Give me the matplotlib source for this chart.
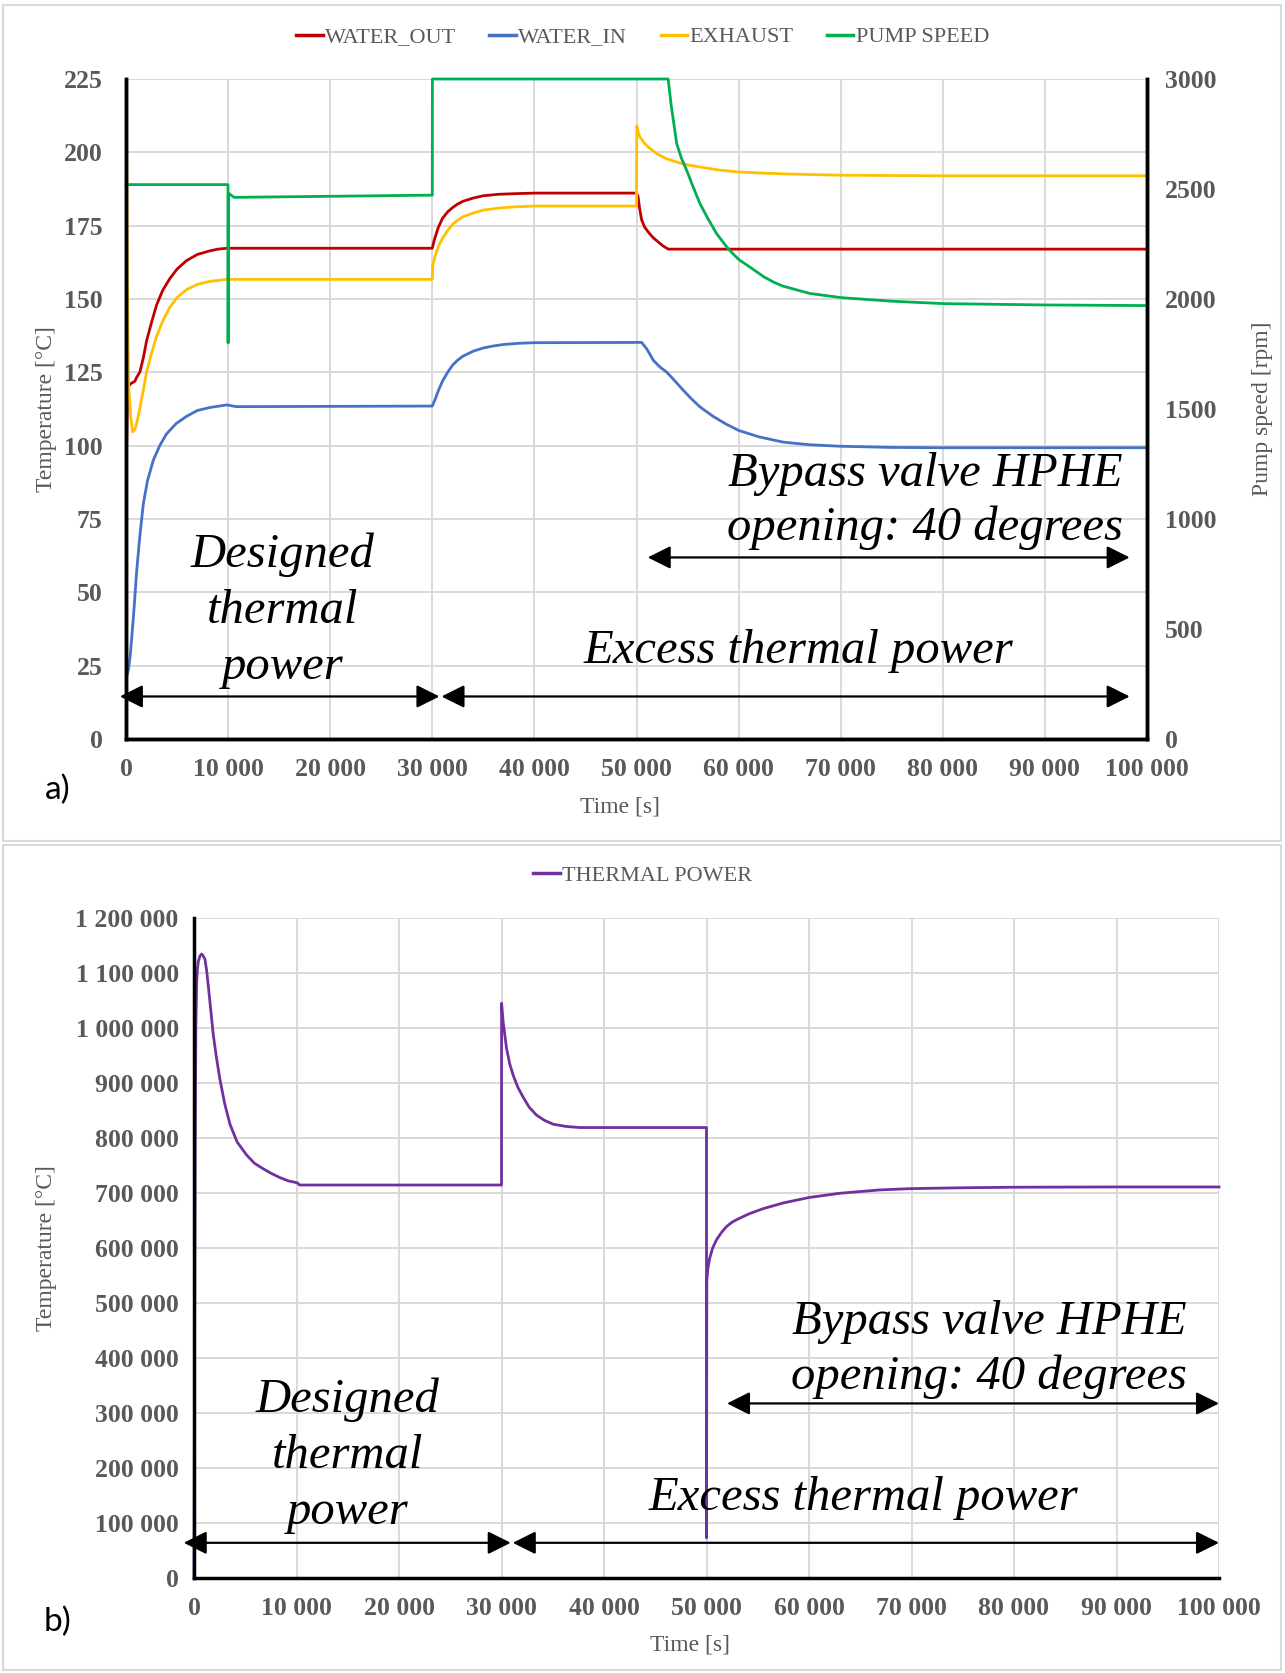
import matplotlib.pyplot as plt
from matplotlib.lines import Line2D
from matplotlib.patches import Rectangle

plt.rcParams['font.family'] = ['Liberation Serif', 'DejaVu Serif']

# ---- a) temperatures [°C] and pump speed [rpm] ----
water_out_t = [0, 60, 150, 400, 880, 1000, 1370, 1700, 2020, 2500, 3000, 3600,
               4300, 5000, 5930, 7000, 8200, 9000, 9900,
               30000, 30150, 30300, 30600, 31000, 31500, 32000, 32500, 33000,
               34000, 35000, 36500, 38000, 40000, 50000,
               50150, 50300, 50500, 50800, 51160, 51600, 52140, 52600, 53100, 100000]
water_out = [20, 100, 119.5, 121, 122, 123, 125.2, 130, 135.8, 142, 148, 153,
             157, 160.2, 163.1, 165.2, 166.4, 167, 167.3,
             167.3, 169.5, 171.3, 174.5, 177.5, 179.7, 181.2, 182.4, 183.3,
             184.4, 185.2, 185.7, 185.9, 186.1, 186.1,
             185, 181, 177, 174.5, 172.8, 171, 169.4, 168.1, 167, 167]

water_in_t = [0, 230, 400, 550, 800, 1040, 1350, 1690, 2100, 2670, 3300, 3970,
              4900, 5930, 7000, 8200, 9900, 10800,
              30000, 30300, 30600, 31000, 31500, 32000, 32500, 33000, 34000,
              35000, 36000, 37000, 38500, 40000, 50500,
              51000, 51650, 52300, 52950, 53700, 54580, 55400, 56220, 57500,
              58700, 60000, 62000, 64380, 67000, 70000, 75000, 80000, 100000]
water_in = [20.5, 23.5, 28, 34, 45, 57, 69, 80, 88, 95, 100, 104,
            107.5, 110, 112, 113, 113.9, 113.3,
            113.5, 116, 118.8, 122, 125, 127.5, 129.2, 130.5, 132.2,
            133.3, 134, 134.5, 134.9, 135.1, 135.2,
            133, 129.1, 126.8, 125.1, 122.3, 118.9, 115.9, 113.2, 110,
            107.5, 105.2, 103, 101.2, 100.3, 99.8, 99.4, 99.3, 99.3]

exhaust_t = [0, 30, 120, 250, 460, 650, 880, 1100, 1370, 1700, 2020, 2500,
             3000, 3600, 4300, 5000, 5930, 7000, 8200, 9900,
             30000, 30050, 30300, 30600, 31000, 31500, 32000, 32500, 33000,
             34000, 35000, 36500, 38000, 40000, 50000,
             50030, 50150, 50340, 50800, 51320, 52000, 52950, 54000, 55000,
             56220, 58000, 60000, 62500, 65000, 70000, 80000, 100000]
exhaust = [20, 225, 160, 121, 110, 104.7, 105.5, 108.5, 113, 119, 125.2, 131.5,
           137.3, 142.5, 147.2, 150.5, 153.2, 155, 156, 156.7,
           156.7, 161.5, 165, 168, 170.7, 173.3, 175.5, 176.9, 178,
           179.3, 180.3, 181, 181.4, 181.7, 181.7,
           209, 207, 205.2, 203, 201.3, 199.5, 197.8, 196.6, 195.7,
           195, 194, 193.3, 192.9, 192.6, 192.2, 192, 192]

pump_t = [0, 9990, 10000, 10020, 10100, 10600, 30000, 30010, 53100, 53200,
          53400, 53940, 54400, 54910, 55500, 56220, 57000, 57850, 59000, 60000,
          61110, 62500, 63500, 64380, 67000, 70100, 75000, 80050, 90000, 100000]
pump = [2520, 2520, 1800, 2480, 2478, 2462, 2472, 3000, 3000, 2960,
        2880, 2706, 2640, 2585, 2515, 2433, 2365, 2297, 2227, 2180,
        2145, 2100, 2075, 2058, 2025, 2006, 1990, 1979, 1973, 1970]

# ---- b) thermal power ----
thermal_t = [0, 60, 120, 180, 260, 340, 420, 580, 750, 900, 1070, 1230, 1400,
             1650, 1885, 2200, 2535, 3000, 3510, 4200, 5135, 5900, 6760, 7500,
             8385, 9200, 10075, 10300, 30000,
             30010, 30160, 30490, 30800, 31140, 31600, 32120, 32700, 33420,
             34200, 35050, 36300, 37650, 50000,
             50001, 50030, 50150, 50330, 50600, 50980, 51450, 51950, 52500,
             53100, 54200, 55540, 57500, 60000, 63000, 66900, 70000, 75000,
             80000, 90000, 100000]
thermal = [0, 450000, 800000, 1000000, 1084000, 1108000, 1121000, 1131000,
           1134500, 1131000, 1125000, 1105000, 1076000,
           1030000, 987000, 945000, 906000, 862000, 825000, 793000, 769000,
           754000, 744000, 736000, 728000, 722000, 718500, 714500, 714500,
           1045000, 1011000, 963000, 935000, 914000, 892000, 874000, 856000,
           841500, 832000, 825000, 821000, 819000, 819000,
           72800, 542000, 565000, 582600, 600000, 615000, 628000, 639000,
           647000, 653000, 662500, 671600, 682000, 691800, 699500, 705600,
           708000, 709500, 710500, 711000, 711000]

time_ticks = [0, 10000, 20000, 30000, 40000, 50000, 60000, 70000, 80000, 90000, 100000]
temp_ticks = [0, 25, 50, 75, 100, 125, 150, 175, 200, 225]
rpm_ticks = [0, 500, 1000, 1500, 2000, 2500, 3000]
power_ticks = [0, 100000, 200000, 300000, 400000, 500000, 600000, 700000,
               800000, 900000, 1000000, 1100000, 1200000]


def spaced(v):
    return '{:,.0f}'.format(v).replace(',', ' ')


GREY = '#595959'
GRID = '#d9d9d9'
RED = '#c00000'
BLUE = '#4472c4'
YELLOW = '#ffc000'
GREEN = '#00b050'
PURPLE = '#7030a0'

W, H = 1285, 1673
fig = plt.figure(figsize=(W / 100, H / 100), dpi=100)

# light frames round the two panels
fig.patches.append(Rectangle((3 / W, 1 - 841 / H), 1278 / W, 836 / H, transform=fig.transFigure,
                             fill=False, ec=GRID, lw=1.5))
fig.patches.append(Rectangle((3 / W, 1 - 1670 / H), 1278 / W, 825 / H, transform=fig.transFigure,
                             fill=False, ec=GRID, lw=1.5))

tick_font = dict(fontsize=18.5, fontweight='bold', color=GREY)
label_font = dict(fontsize=17, color=GREY)
note_font = dict(fontsize=35, style='italic', color='black', ha='center', va='center')
arrow_style = dict(arrowstyle='<|-|>,head_length=0.7,head_width=0.35', color='black',
                   lw=1.6, shrinkA=0, shrinkB=0, mutation_scale=20)


def arrow(axis, x0, x1, y, trans):
    axis.annotate('', xy=(x1, y), xytext=(x0, y), xycoords=trans, textcoords=trans,
                  arrowprops=arrow_style, annotation_clip=False, zorder=10)


# ================= a) =================
ax = fig.add_axes([126 / W, 1 - 739 / H, 1021 / W, 660 / H])
ax2 = ax.twinx()

ax.plot(water_out_t, water_out, color=RED, lw=2)
ax.plot(water_in_t, water_in, color=BLUE, lw=2)
ax.plot(exhaust_t, exhaust, color=YELLOW, lw=2)
ax2.plot(pump_t, pump, color=GREEN, lw=2, clip_on=False)

ax.set_xlim(0, 100000)
ax.set_ylim(0, 225)
ax2.set_ylim(0, 3000)

ax.set_xticks(time_ticks, [spaced(t) for t in time_ticks], **tick_font)
ax.set_yticks(temp_ticks, [str(t) for t in temp_ticks], **tick_font)
ax2.set_yticks(rpm_ticks, [str(t) for t in rpm_ticks], **tick_font)
ax.tick_params(axis='x', length=0, pad=14)
ax.tick_params(axis='y', length=0, pad=17)
ax2.tick_params(axis='y', length=0, pad=13)

ax.grid(True, color=GRID, lw=1.4)
ax.set_axisbelow(True)
for a in (ax, ax2):
    a.spines['top'].set_visible(False)
    for s in ('left', 'right', 'bottom'):
        a.spines[s].set_color('black')
        a.spines[s].set_linewidth(2.5)

ax.set_xlabel('Time [s]', **label_font)
ax.xaxis.set_label_coords(0.484, -0.087)
ax.set_ylabel('Temperature [°C]', **label_font)
ax.yaxis.set_label_coords(-0.068, 0.5)
ax2.set_ylabel('Pump speed [rpm]', rotation=90, **label_font)
ax2.yaxis.set_label_coords(1.103, 0.5)

handles = [Line2D([], [], color=c, lw=2.5) for c in (RED, BLUE, YELLOW, GREEN)]
fig.legend(handles, ['WATER_OUT', 'WATER_IN', 'EXHAUST', 'PUMP SPEED'], loc='center',
           bbox_to_anchor=(0.5, 1 - 37 / H), ncol=4, frameon=False, fontsize=16,
           labelcolor=GREY, handlelength=1.2, handletextpad=0.1, columnspacing=1.5)

tr = ax.transData
ax2.text(15360, 43.6, 'Designed\nthermal\npower', transform=tr, linespacing=1.35, **note_font)
ax2.text(78270, 81.1, 'Bypass valve HPHE\nopening: 40 degrees', transform=tr,
         linespacing=1.27, **note_font)
ax2.text(65900, 29.9, 'Excess thermal power', transform=tr, **note_font)
arrow(ax2, -600, 30700, 14.5, tr)
arrow(ax2, 30900, 98300, 14.5, tr)
arrow(ax2, 51100, 98300, 61.9, tr)

fig.text(58 / W, 1 - 790 / H, 'a)', fontsize=24, family=['Lato', 'DejaVu Sans'],
         ha='center', va='center')

# ================= b) =================
bx = fig.add_axes([194 / W, 1 - 1578 / H, 1025 / W, 660 / H])
bx.plot(thermal_t, thermal, color=PURPLE, lw=2, clip_on=False)
bx.set_xlim(0, 100000)
bx.set_ylim(0, 1200000)

bx.set_xticks(time_ticks, [spaced(t) for t in time_ticks], **tick_font)
bx.set_yticks(power_ticks, [spaced(p) for p in power_ticks], **tick_font)
bx.tick_params(axis='x', length=0, pad=14)
bx.tick_params(axis='y', length=0, pad=11)

bx.grid(True, color=GRID, lw=1.4)
bx.set_axisbelow(True)
bx.spines['top'].set_visible(False)
bx.spines['right'].set_visible(False)
for s in ('left', 'bottom'):
    bx.spines[s].set_color('black')
    bx.spines[s].set_linewidth(2.5)

bx.set_xlabel('Time [s]', **label_font)
bx.xaxis.set_label_coords(0.484, -0.085)
bx.set_ylabel('Temperature [°C]', **label_font)
bx.yaxis.set_label_coords(-0.134, 0.5)

fig.legend([Line2D([], [], color=PURPLE, lw=2.5)], ['THERMAL POWER'], loc='center',
           bbox_to_anchor=(0.5, 1 - 876 / H), frameon=False, fontsize=16,
           labelcolor=GREY, handlelength=1.2, handletextpad=0.1)

bx.text(15000, 222600, 'Designed\nthermal\npower', linespacing=1.35, zorder=10, **note_font)
bx.text(77550, 416000, 'Bypass valve HPHE\nopening: 40 degrees', linespacing=1.3,
        zorder=10, **note_font)
bx.text(65260, 145000, 'Excess thermal power', zorder=10, **note_font)
arrow(bx, -1000, 30900, 64000, bx.transData)
arrow(bx, 31100, 100000, 64000, bx.transData)
arrow(bx, 52000, 100000, 317400, bx.transData)

fig.text(58 / W, 1 - 1622 / H, 'b)', fontsize=24, family=['Lato', 'DejaVu Sans'],
         ha='center', va='center')

fig.savefig('out.png', dpi=100)
